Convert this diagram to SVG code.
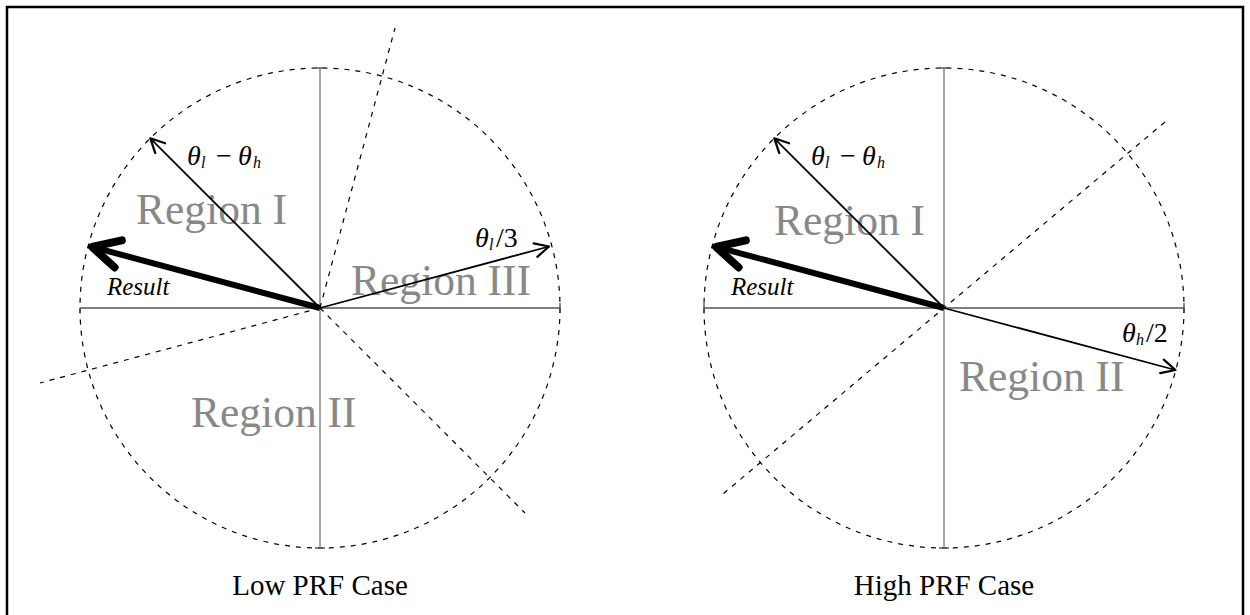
<svg xmlns="http://www.w3.org/2000/svg" width="1250" height="615" viewBox="0 0 1250 615">
  <style>
    .frame { fill: #fff; stroke: #000; stroke-width: 2.5; }
    .circ { fill: none; stroke: #000; stroke-width: 1.2; stroke-dasharray: 5 6; }
    .bound { fill: none; stroke: #000; stroke-width: 1.2; stroke-dasharray: 5 6; }
    .vaxis { stroke: #888; stroke-width: 1.5; }
    .haxis { stroke: #555; stroke-width: 1.3; }
    .tick { stroke: #444; stroke-width: 1.3; }
    .vec { stroke: #000; stroke-width: 1.8; fill: none; marker-end: url(#thin); }
    .res { stroke: #000; stroke-width: 6; fill: none; marker-end: url(#thick); }
    .region { font-family: "Liberation Serif", "Times New Roman", serif; font-size: 43.5px; fill: #888; }
    .cap { font-family: "Liberation Serif", "Times New Roman", serif; font-size: 29px; fill: #000; text-anchor: middle; }
    .math { font-family: "Liberation Serif", "Times New Roman", serif; font-size: 28px; fill: #000; }
    .it { font-style: italic; }
    .sub { font-style: italic; font-size: 16px; }
    .lbl { font-family: "Liberation Serif", "Times New Roman", serif; font-size: 25px; font-style: italic; fill: #000; }
  </style>
  <defs>
    <marker id="thin" markerUnits="userSpaceOnUse" markerWidth="40" markerHeight="40" viewBox="-20 -20 40 40" refX="0" refY="0" orient="auto" overflow="visible">
      <path d="M-14,-7 L0,0 L-14,7" fill="none" stroke="#000" stroke-width="2.2" stroke-linejoin="round" stroke-linecap="round"/>
    </marker>
    <marker id="thick" markerUnits="userSpaceOnUse" markerWidth="80" markerHeight="80" viewBox="-40 -40 80 80" refX="0" refY="0" orient="auto" overflow="visible">
      <path d="M-27,-14 L0,0 L-27,14" fill="none" stroke="#000" stroke-width="8" stroke-linejoin="round" stroke-linecap="round"/>
    </marker>
  </defs>

  <rect class="frame" x="7" y="7" width="1236" height="620"/>

  <!-- Left panel: Low PRF Case -->
  <g id="low-prf">
    <circle class="circ" cx="320" cy="308" r="240"/>
    <line class="vaxis" x1="320" y1="68" x2="320" y2="548"/>
    <line class="haxis" x1="80" y1="308" x2="560" y2="308"/>
    <line class="tick" x1="80" y1="308" x2="80" y2="313"/>
    <line class="tick" x1="560" y1="303" x2="560" y2="313"/>
    <line class="tick" x1="315" y1="68" x2="325" y2="68"/>
    <line class="tick" x1="315" y1="548" x2="325" y2="548"/>
    <text class="region" x="136" y="224">Region I</text>
    <text class="region" x="351" y="295">Region III</text>
    <text class="region" x="191" y="427">Region II</text>
    <text class="cap" x="320" y="595">Low PRF Case</text>
  </g>

  <!-- Right panel: High PRF Case -->
  <g id="high-prf">
    <circle class="circ" cx="944" cy="308" r="240"/>
    <line class="vaxis" x1="944" y1="68" x2="944" y2="548"/>
    <line class="haxis" x1="704" y1="308" x2="1184" y2="308"/>
    <line class="tick" x1="704" y1="303" x2="704" y2="313"/>
    <line class="tick" x1="1184" y1="303" x2="1184" y2="313"/>
    <line class="tick" x1="939" y1="68" x2="949" y2="68"/>
    <line class="tick" x1="939" y1="548" x2="949" y2="548"/>
    <text class="region" x="774" y="235">Region I</text>
    <text class="region" x="959" y="391">Region II</text>
    <text class="cap" x="944" y="595">High PRF Case</text>
  </g>

  <!-- Connectors: region boundaries and vectors -->
  <g id="connectors">
    <line class="bound" x1="320" y1="308" x2="395" y2="28"/>
    <line class="bound" x1="320" y1="308" x2="40" y2="383"/>
    <line class="bound" x1="320" y1="308" x2="525" y2="513"/>
    <line class="vec" x1="320" y1="308" x2="150.3" y2="138.3"/>
    <line class="vec" x1="320" y1="308" x2="549" y2="246.5"/>
    <line class="res" x1="320" y1="308" x2="92.1" y2="246.9"/>

    <line class="bound" x1="1165" y1="122" x2="723" y2="494"/>
    <line class="vec" x1="944" y1="308" x2="774.3" y2="138.3"/>
    <line class="vec" x1="944" y1="308" x2="1175.5" y2="370"/>
    <line class="res" x1="944" y1="308" x2="716.1" y2="246.9"/>
  </g>

  <g id="labels">
    <text class="math"><tspan class="it" x="187" y="165">θ</tspan><tspan class="sub" x="201" y="168">l</tspan><tspan x="216" y="165">−</tspan><tspan class="it" x="238" y="165">θ</tspan><tspan class="sub" x="253" y="168">h</tspan></text>
    <text class="math"><tspan class="it" x="475" y="247">θ</tspan><tspan class="sub" x="489" y="250">l</tspan><tspan x="496" y="247">/3</tspan></text>
    <text class="lbl" x="107" y="295">Result</text>

    <text class="math"><tspan class="it" x="811" y="165">θ</tspan><tspan class="sub" x="825" y="168">l</tspan><tspan x="840" y="165">−</tspan><tspan class="it" x="862" y="165">θ</tspan><tspan class="sub" x="877" y="168">h</tspan></text>
    <text class="math"><tspan class="it" x="1122" y="342">θ</tspan><tspan class="sub" x="1136" y="345">h</tspan><tspan x="1146" y="342">/2</tspan></text>
    <text class="lbl" x="731" y="295">Result</text>
  </g>
</svg>
